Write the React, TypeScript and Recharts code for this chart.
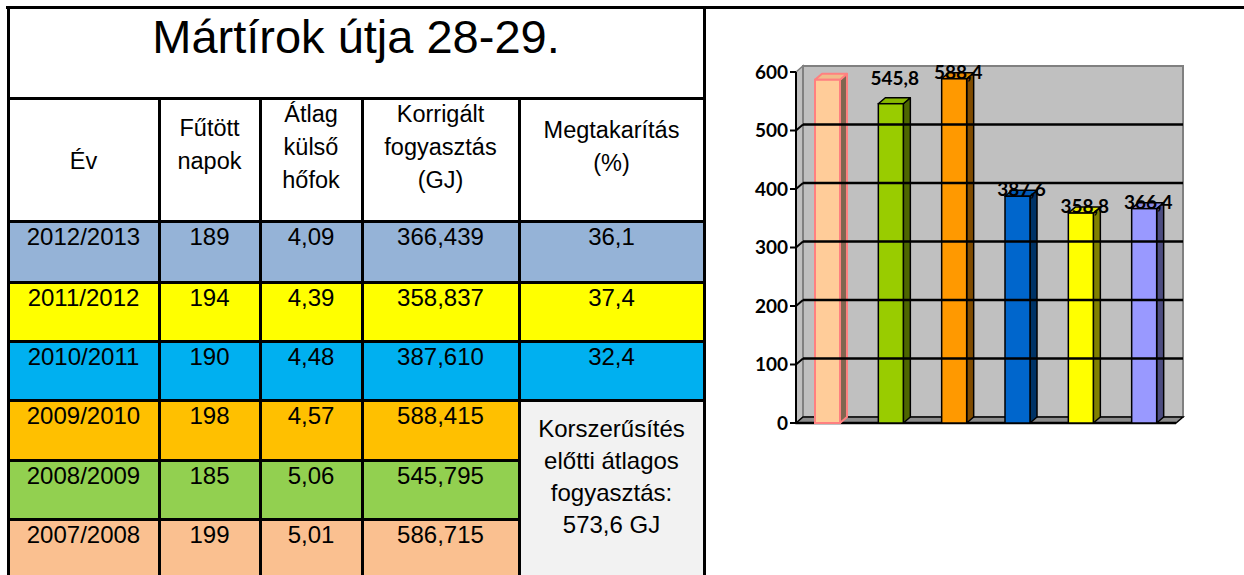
import { Bar, BarChart, LabelList, ReferenceArea, ReferenceLine, XAxis, YAxis } from 'recharts'

// table (top row = newest season)
const seasons = ['2012/2013', '2011/2012', '2010/2011', '2009/2010', '2008/2009', '2007/2008']
const heatedDays = ['189', '194', '190', '198', '185', '199']
const avgOutsideTemp = ['4,09', '4,39', '4,48', '4,57', '5,06', '5,01']
const correctedUse = ['366,439', '358,837', '387,610', '588,415', '545,795', '586,715']
const savings = ['36,1', '37,4', '32,4']
const beforeNote = ['Korszerűsítés', 'előtti átlagos', 'fogyasztás:', '573,6 GJ']

// chart (oldest season first)
const chartSeasons = ['2007/2008', '2008/2009', '2009/2010', '2010/2011', '2011/2012', '2012/2013']
const chartValues = [586.7, 545.8, 588.4, 387.6, 358.8, 366.4]
const yTicks = [0, 100, 200, 300, 400, 500, 600]
const gridValues = [100, 200, 300, 400, 500]

const rowColors = ['#95b3d7', '#ffff00', '#00b0f0', '#ffc000', '#92d050', '#fac090']
const barFront = ['#ffcc99', '#99cc00', '#ff9900', '#0066cc', '#ffff00', '#9999ff']
const barTop = ['#f0bd8c', '#88b800', '#e88a00', '#005bb8', '#e6e600', '#8a8ae8']
const barSide = ['#806650', '#4d6600', '#804c00', '#003366', '#808000', '#4d4d80']
const barStroke = ['#ff8080', '#000', '#000', '#000', '#000', '#000']

const chartData = chartSeasons.map((s, i) => ({ season: s, value: chartValues[i] }))

const DX = 7
const DY = 6

const colX = [8, 159, 260, 362, 519, 704]
const rowY = [221, 282, 341, 400, 460, 519, 580]
const tableFont = '"Liberation Sans", Arial, sans-serif'
const chartFont = 'Lato, "Open Sans", sans-serif'

function Bar3D(props: any) {
  const { x, y, width, height, index } = props
  const s = barStroke[index]
  const sw = index === 0 ? 2 : 1.5
  return (
    <g>
      <polygon
        points={`${x + width},${y} ${x + width + DX},${y - DY} ${x + width + DX},${y + height - DY} ${x + width},${y + height}`}
        fill={barSide[index]}
        stroke={s}
        strokeWidth={sw}
        strokeLinejoin="round"
      />
      <polygon
        points={`${x},${y} ${x + DX},${y - DY} ${x + width + DX},${y - DY} ${x + width},${y}`}
        fill={barTop[index]}
        stroke={s}
        strokeWidth={sw}
        strokeLinejoin="round"
      />
      <rect x={x} y={y} width={width} height={height} fill={barFront[index]} stroke={s} strokeWidth={sw} />
    </g>
  )
}

function ValueLabel(props: any) {
  const { x, y, width, value, index } = props
  if (index === 0) return null // not shown in the original
  const lift = index === 1 ? 19 : 0
  return (
    <text
      x={x + width / 2 + 4}
      y={y - lift}
      textAnchor="middle"
      fontFamily={chartFont}
      fontWeight={700}
      fontSize={19}
      fill="#000"
    >
      {Number(value).toFixed(1).replace('.', ',')}
    </text>
  )
}

function Walls(props: any) {
  const { x, y, width, height } = props
  const b = y + height
  return (
    <g>
      <polygon
        points={`${x},${y} ${x + DX},${y - DY} ${x + DX},${b - DY} ${x},${b}`}
        fill="#c0c0c0"
        stroke="#808080"
        strokeWidth={1.5}
      />
      <rect x={x + DX} y={y - DY} width={width} height={height} fill="#c0c0c0" stroke="#808080" strokeWidth={2} />
      <polygon
        points={`${x},${b} ${x + DX},${b - DY} ${x + width + DX},${b - DY} ${x + width},${b}`}
        fill="#8c8c8c"
        stroke="#000"
        strokeWidth={1.5}
      />
      <line x1={x} y1={b} x2={x + width} y2={b} stroke="#000" strokeWidth={2.5} />
    </g>
  )
}

function GridLine(props: any) {
  const { x1, y1, x2 } = props
  return (
    <g>
      <line x1={x1} y1={y1} x2={x1 + DX} y2={y1 - DY} stroke="#000" strokeWidth={2} />
      <line x1={x1 + DX} y1={y1 - DY} x2={x2 + DX} y2={y1 - DY} stroke="#000" strokeWidth={2.5} />
    </g>
  )
}

function Line({ left, top, w, h }: { left: number; top: number; w: number; h: number }) {
  return <div style={{ position: 'absolute', left, top, width: w, height: h, background: '#000' }} />
}

function Cell({ col, top, bottom, bg, lines, pad, size = 24, lh = 30 }: any) {
  return (
    <div
      style={{
        position: 'absolute',
        left: colX[col],
        top,
        width: colX[col + 1] - colX[col],
        height: bottom - top,
        background: bg,
        fontFamily: tableFont,
        fontSize: size,
        lineHeight: `${lh}px`,
        textAlign: 'center',
        color: '#000',
        boxSizing: 'border-box',
        paddingTop: pad,
        whiteSpace: 'nowrap',
      }}
    >
      {lines.map((l: string, i: number) => (
        <div key={i}>{l}</div>
      ))}
    </div>
  )
}

export default function App() {
  const header = [
    { lines: ['Év'], pad: 47 },
    { lines: ['Fűtött', 'napok'], pad: 14 },
    { lines: ['Átlag', 'külső', 'hőfok'], pad: 0 },
    { lines: ['Korrigált', 'fogyasztás', '(GJ)'], pad: 0 },
    { lines: ['Megtakarítás', '(%)'], pad: 16 },
  ]
  return (
    <div
      style={{ position: 'absolute', left: 0, top: 0, width: 1244, height: 575, overflow: 'hidden', background: '#fff' }}
    >
      {/* title */}
      <div
        style={{
          position: 'absolute',
          left: 8,
          top: 13,
          width: 696,
          textAlign: 'center',
          fontFamily: tableFont,
          fontSize: 47,
          lineHeight: '47px',
          whiteSpace: 'nowrap',
        }}
      >
        Mártírok útja 28-29.
      </div>

      {/* header cells */}
      {header.map((h, c) => (
        <Cell key={c} col={c} top={98} bottom={221} bg="#fff" lines={h.lines} pad={h.pad} size={23.5} lh={33} />
      ))}

      {/* data rows */}
      {seasons.map((s, r) => {
        const top = rowY[r]
        const bottom = rowY[r + 1]
        const bg = rowColors[r]
        return (
          <div key={s}>
            <Cell col={0} top={top} bottom={bottom} bg={bg} lines={[s]} pad={1} />
            <Cell col={1} top={top} bottom={bottom} bg={bg} lines={[heatedDays[r]]} pad={1} />
            <Cell col={2} top={top} bottom={bottom} bg={bg} lines={[avgOutsideTemp[r]]} pad={1} />
            <Cell col={3} top={top} bottom={bottom} bg={bg} lines={[correctedUse[r]]} pad={1} />
            {r < savings.length && <Cell col={4} top={top} bottom={bottom} bg={bg} lines={[savings[r]]} pad={1} />}
          </div>
        )
      })}
      <Cell col={4} top={400} bottom={580} bg="#f2f2f2" lines={beforeNote} pad={13} lh={32} />

      {/* borders */}
      <Line left={6} top={6} w={1238} h={2.5} />
      <Line left={7} top={6} w={2.5} h={570} />
      <Line left={703} top={6} w={2.5} h={570} />
      <Line left={7} top={97} w={698} h={2.5} />
      {[220, 281, 340, 399].map((y) => (
        <Line key={y} left={7} top={y} w={698} h={2.5} />
      ))}
      {[459, 518].map((y) => (
        <Line key={y} left={7} top={y} w={513} h={2.5} />
      ))}
      {[158, 259, 361, 518].map((x) => (
        <Line key={x} left={x} top={97} w={2.5} h={480} />
      ))}

      {/* chart */}
      <div style={{ position: 'absolute', left: 730, top: 40 }}>
        <BarChart width={480} height={410} data={chartData} margin={{ top: 32, right: 34, bottom: 27, left: 6 }} barSize={25}>
          <XAxis dataKey="season" hide />
          <YAxis
            domain={[0, 600]}
            ticks={yTicks}
            interval={0}
            width={60}
            tickSize={6}
            tickMargin={2}
            axisLine={{ stroke: '#000', strokeWidth: 2 }}
            tickLine={{ stroke: '#000', strokeWidth: 2 }}
            tick={{ fill: '#000', fontSize: 19, fontWeight: 700, fontFamily: chartFont }}
          />
          <ReferenceArea y1={0} y2={600} shape={(p: any) => <Walls {...p} />} />
          {gridValues.map((v) => (
            <ReferenceLine key={v} y={v} shape={(p: any) => <GridLine {...p} />} />
          ))}
          <Bar dataKey="value" isAnimationActive={false} shape={(p: any) => <Bar3D {...p} />}>
            <LabelList dataKey="value" content={(p: any) => <ValueLabel {...p} />} />
          </Bar>
        </BarChart>
      </div>
    </div>
  )
}
